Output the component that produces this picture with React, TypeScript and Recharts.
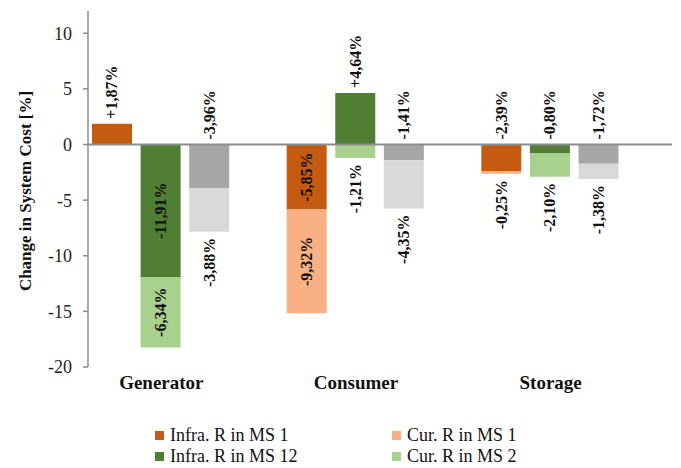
import React from "react";
import { BarChart, Bar, XAxis, YAxis, ReferenceLine, LabelList } from "recharts";

// Change in system cost per market side, in percent
const categories = ["Generator", "Consumer", "Storage"];
const infraMs1 = [1.87, -5.85, -2.39];
const curMs1 = [null, -9.32, -0.25];
const infraMs12 = [-11.91, 4.64, -0.8];
const curMs2 = [-6.34, -1.21, -2.1];
const infraOther = [-3.96, -1.41, -1.72];
const curOther = [-3.88, -4.35, -1.38];
const yTicks = [-20, -15, -10, -5, 0, 5, 10];

type Segment = "base" | "outer";

const series: {
  key: string;
  name: string;
  stack: string;
  color: string;
  segment: Segment;
  legend: boolean;
  values: (number | null)[];
}[] = [
  { key: "infraMs1", name: "Infra. R in MS 1", stack: "ms1", color: "#C55A11", segment: "base", legend: true, values: infraMs1 },
  { key: "curMs1", name: "Cur. R in MS 1", stack: "ms1", color: "#F8B084", segment: "outer", legend: true, values: curMs1 },
  { key: "infraMs12", name: "Infra. R in MS 12", stack: "ms12", color: "#507E32", segment: "base", legend: true, values: infraMs12 },
  { key: "curMs2", name: "Cur. R in MS 2", stack: "ms12", color: "#A9D18E", segment: "outer", legend: true, values: curMs2 },
  { key: "infraOther", name: "Infra. R", stack: "other", color: "#A6A6A6", segment: "base", legend: false, values: infraOther },
  { key: "curOther", name: "Cur. R", stack: "other", color: "#D9D9D9", segment: "outer", legend: false, values: curOther },
];

const data = categories.map((category, i) => {
  const row: Record<string, string | number | null> = { category };
  series.forEach((s) => {
    row[s.key] = s.values[i];
  });
  return row;
});

const FONT = "'Liberation Serif', 'Times New Roman', serif";

const fmt = (v: number) => {
  const s = Math.abs(v).toFixed(2).replace(".", ",");
  return (v > 0 ? "+" : "-") + s + "%";
};

// Rotated value labels: inside tall segments, otherwise just outside the segment
const makeLabel = (segment: Segment) => (props: any) => {
  const { x, y, width, height } = props;
  let value = props.value;
  if (Array.isArray(value)) value = value[1] - value[0];
  if (value == null || Number.isNaN(value) || value === 0) return null;
  const top = Math.min(y, y + height);
  const bottom = Math.max(y, y + height);
  const cx = x + width / 2;
  let cy: number;
  let anchor: "middle" | "start" | "end";
  if (Math.abs(value) >= 5) {
    cy = (top + bottom) / 2;
    anchor = "middle";
  } else if (segment === "base") {
    cy = top - 5;
    anchor = "start";
  } else {
    cy = bottom + 6;
    anchor = "end";
  }
  return (
    <text
      x={cx}
      y={cy}
      transform={`rotate(-90 ${cx} ${cy})`}
      textAnchor={anchor}
      dominantBaseline="central"
      fontFamily={FONT}
      fontWeight="bold"
      fontSize={16}
      fill="#111"
    >
      {fmt(value)}
    </text>
  );
};

// Category names sit centred over the three drawn stacks of each group
const CategoryTick = (props: any) => {
  const { x, y, payload } = props;
  return (
    <text
      x={x - 24}
      y={y + 22}
      textAnchor="middle"
      fontFamily={FONT}
      fontWeight="bold"
      fontSize={19}
      fill="#111"
    >
      {payload.value}
    </text>
  );
};

const YTitle = (props: any) => {
  const vb = props.viewBox || { x: 0, y: 11, width: 88, height: 356 };
  const cx = vb.x + 25;
  const cy = vb.y + vb.height / 2 + 2;
  return (
    <text
      x={cx}
      y={cy}
      transform={`rotate(-90 ${cx} ${cy})`}
      textAnchor="middle"
      dominantBaseline="central"
      fontFamily={FONT}
      fontWeight="bold"
      fontSize={17}
      fill="#111"
    >
      Change in System Cost [%]
    </text>
  );
};

const legendItems = series.filter((s) => s.legend);
const legendLeft = [155, 392];
const legendRowTop = [427, 448];

export default function App() {
  return (
    <div
      style={{
        position: "absolute",
        left: 0,
        top: 0,
        width: 681,
        height: 468,
        background: "#fff",
        fontFamily: FONT,
      }}
    >
      <BarChart
        width={681}
        height={468}
        data={data}
        stackOffset="sign"
        barSize={40}
        barGap={8.6}
        margin={{ top: 11, right: 9, bottom: 61, left: 0 }}
      >
        <XAxis
          dataKey="category"
          axisLine={false}
          tickLine={false}
          tickSize={0}
          tickMargin={0}
          height={40}
          tick={<CategoryTick />}
          interval={0}
        />
        <YAxis
          type="number"
          domain={[-20, 12]}
          ticks={yTicks}
          allowDataOverflow
          width={88}
          axisLine={{ stroke: "#8C8C8C", strokeWidth: 1.5 }}
          tickLine={{ stroke: "#8C8C8C", strokeWidth: 1.5 }}
          tickSize={5}
          tickMargin={11}
          tick={{ fontFamily: FONT, fontSize: 18, fill: "#222" }}
          label={<YTitle />}
        />
        {series.map((s) => (
          <Bar
            key={s.key}
            dataKey={s.key}
            name={s.name}
            stackId={s.stack}
            fill={s.color}
            isAnimationActive={false}
          >
            <LabelList dataKey={s.key} content={makeLabel(s.segment)} />
          </Bar>
        ))}
        {/* empty fourth slot keeps each group of stacks left-aligned in its band */}
        <Bar dataKey="reserved" stackId="reserved" fill="none" isAnimationActive={false} legendType="none" />
        <ReferenceLine y={0} stroke="#8C8C8C" strokeWidth={2} />
      </BarChart>
      {legendItems.map((s, i) => {
        const col = i % 2;
        const row = Math.floor(i / 2);
        return (
          <div
            key={s.key}
            style={{
              position: "absolute",
              left: legendLeft[col],
              top: legendRowTop[row],
              height: 16,
              lineHeight: "16px",
              fontSize: 18,
              color: "#111",
              display: "flex",
              alignItems: "center",
              whiteSpace: "nowrap",
            }}
          >
            <span
              style={{
                display: "inline-block",
                width: 9,
                height: 9,
                background: s.color,
                marginRight: 6,
              }}
            />
            <span>{s.name}</span>
          </div>
        );
      })}
    </div>
  );
}
